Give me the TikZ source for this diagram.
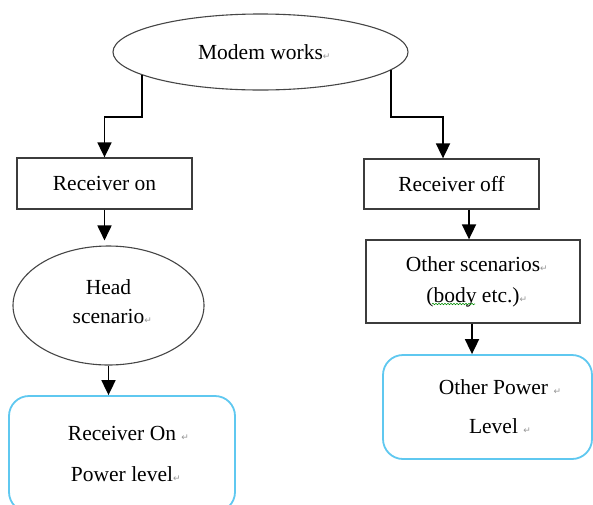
\documentclass[tikz,border=0pt]{standalone}
\usepackage{fontspec}
\setmainfont{Liberation Serif}
\newfontfamily\dejavu{DejaVu Sans}
\usetikzlibrary{shapes.geometric,arrows.meta,decorations.pathmorphing}
\definecolor{pmgray}{RGB}{150,150,150}
\definecolor{skyline}{RGB}{95,200,240}
\definecolor{boxline}{RGB}{60,60,60}
\definecolor{ellgray}{RGB}{70,70,70}
\newcommand{\pmk}{{\dejavu\fontsize{9}{9}\selectfont\color{pmgray}↵}}
\tikzset{
  txt/.style={font=\fontsize{21.5}{29}\selectfont, align=center, inner sep=0pt},
  ell/.style={ellipse, draw=ellgray, line width=1.1pt, inner sep=0pt},
  rbox/.style={rectangle, draw=boxline, line width=1.3pt, inner sep=0pt},
  pbox/.style={rectangle, rounded corners=20pt, draw=skyline, line width=1.8pt, inner sep=0pt},
  arr/.style={draw=black, line width=1.8pt, -{Triangle[length=15pt,width=14pt]}}
}
\begin{document}
\begin{tikzpicture}[x=1pt,y=-1pt]
\useasboundingbox (0,0) rectangle (593,504);
\fill[white] (0,0) rectangle (593,504);
\clip (0,0) rectangle (593,504);

\node[ell, txt, minimum width=295pt, minimum height=76pt] (modem) at (260.5,52) {Modem works\rlap{\pmk}};
\node[rbox, txt, minimum width=175pt, minimum height=51pt] (ron) at (104.5,183.5) {Receiver on};
\node[rbox, txt, minimum width=175pt, minimum height=50pt] (roff) at (451.5,184) {Receiver off};
\node[ell, minimum width=191pt, minimum height=119pt] (head) at (108.5,305.5) {};
\node[txt] (headtxt) at (108.5,301.5) {Head\\scenario\rlap{\pmk}};
\node[rbox, txt, font=\fontsize{21.5}{31}\selectfont, minimum width=214pt, minimum height=83pt] (osc) at (473,281.5) {Other scenarios\rlap{\pmk}\\(body etc.)\rlap{\pmk}};
\node[pbox, txt, font=\fontsize{21.5}{41}\selectfont, minimum width=226pt, minimum height=116pt] (ronp) at (122,454) {Receiver On\rlap{ \pmk}\\Power level\rlap{\pmk}};
\node[pbox, txt, font=\fontsize{21.5}{39}\selectfont, minimum width=209pt, minimum height=104pt] (opl) at (487.5,407) {\hspace*{12pt}Other Power\rlap{ \pmk}\\\hspace*{12pt}Level\rlap{ \pmk}};

\draw[green!55!black, line width=0.6pt, decorate, decoration={snake, amplitude=0.7pt, segment length=3pt}] (432,304) -- (475,304);

\coordinate (lj) at (0,117);
\draw[arr] (modem.191) -- (modem.191 |- lj) -| (ron.north);
\draw[arr] (modem.352) -- (modem.352 |- lj) -| ([xshift=-8.5pt]roff.north);
\draw[arr, shorten >=5pt] (ron.south) -- (ron.south |- head.north);
\coordinate (a1) at ([xshift=-4pt]osc.north);
\draw[arr] (roff.south -| a1) -- (a1);
\draw[arr] (head.south) -- (head.south |- ronp.north);
\draw[arr] ([xshift=-1pt]osc.south) -- ([xshift=-1pt]osc.south |- opl.north);
\end{tikzpicture}
\end{document}
